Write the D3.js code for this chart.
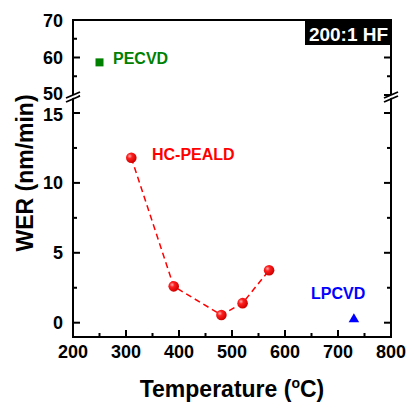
<!DOCTYPE html>
<html>
<head>
<meta charset="utf-8">
<script src="https://cdn.jsdelivr.net/npm/d3@7"></script>
<style>
  body { margin: 0; background: #fff; }
  text { font-family: Arial, "Liberation Sans", sans-serif; font-weight: bold; }
</style>
</head>
<body>
<div id="chart"></div>
<script>
// data
const pealdTemp = [310, 390, 480, 520, 570];
const pealdWer = [11.8, 2.6, 0.55, 1.4, 3.75];
const pecvdTemp = [250];
const pecvdWer = [58.7];
const lpcvdTemp = [730];
const lpcvdWer = [0.25];

const xTicks = [200, 300, 400, 500, 600, 700, 800];
const xMinor = [250, 350, 450, 550, 650, 750];
const upperTicks = [50, 60, 70];
const upperMinor = [55, 65];
const lowerTicks = [0, 5, 10, 15];
const lowerMinor = [2.5, 7.5, 12.5];

const W = 407, H = 403;
const m = {left: 73, right: 391, top: 20, bottom: 337};
const breakY = 98;

const svg = d3.select('#chart')
    .append('svg')
    .attr('width', W)
    .attr('height', H);

const x = d3.scaleLinear().domain([200, 800]).range([m.left, m.right]);
const yUp = d3.scaleLinear().domain([50, 70]).range([95, m.top]);
const yLo = d3.scaleLinear().domain([0, 15]).range([322.7, 113]);

const defs = svg.append('defs');
const grad = defs.append('radialGradient')
    .attr('id', 'ball')
    .attr('cx', '35%').attr('cy', '35%').attr('r', '65%');
grad.append('stop').attr('offset', '0%').attr('stop-color', '#ffb0b0');
grad.append('stop').attr('offset', '35%').attr('stop-color', '#ff2020');
grad.append('stop').attr('offset', '100%').attr('stop-color', '#d00000');

// frame
svg.append('rect')
    .attr('x', m.left).attr('y', m.top)
    .attr('width', m.right - m.left).attr('height', m.bottom - m.top)
    .attr('fill', 'none').attr('stroke', '#000').attr('stroke-width', 2);

// ticks (inward)
function yTick(yPos, len) {
    svg.append('line').attr('x1', m.left).attr('x2', m.left + len)
        .attr('y1', yPos).attr('y2', yPos).attr('stroke', '#000').attr('stroke-width', 2);
    svg.append('line').attr('x1', m.right).attr('x2', m.right - len)
        .attr('y1', yPos).attr('y2', yPos).attr('stroke', '#000').attr('stroke-width', 2);
}
upperTicks.forEach(v => yTick(yUp(v), 7));
upperMinor.forEach(v => yTick(yUp(v), 4));
lowerTicks.forEach(v => yTick(yLo(v), 7));
lowerMinor.forEach(v => yTick(yLo(v), 4));

xTicks.forEach(v => {
    svg.append('line').attr('x1', x(v)).attr('x2', x(v))
        .attr('y1', m.bottom).attr('y2', m.bottom - 7).attr('stroke', '#000').attr('stroke-width', 2);
});
xMinor.forEach(v => {
    svg.append('line').attr('x1', x(v)).attr('x2', x(v))
        .attr('y1', m.bottom).attr('y2', m.bottom - 4).attr('stroke', '#000').attr('stroke-width', 2);
});

// tick labels (the two next to the break are nudged apart a little)
svg.selectAll('.ylab-up')
    .data(upperTicks)
    .join('text')
    .attr('x', 63).attr('y', d => yUp(d) + (d === 50 ? 5 : 6.5))
    .attr('text-anchor', 'end').attr('font-size', 18)
    .text(d => d);
svg.selectAll('.ylab-lo')
    .data(lowerTicks)
    .join('text')
    .attr('x', 63).attr('y', d => yLo(d) + (d === 15 ? 7.5 : 6.5))
    .attr('text-anchor', 'end').attr('font-size', 18)
    .text(d => d);
svg.selectAll('.xlab')
    .data(xTicks)
    .join('text')
    .attr('x', d => x(d)).attr('y', 358)
    .attr('text-anchor', 'middle').attr('font-size', 18)
    .text(d => d);

// axis breaks
[m.left, m.right].forEach(ax => {
    const g = svg.append('g');
    g.append('polygon')
        .attr('points', `${ax - 7},${breakY + 3} ${ax + 7},${breakY - 3} ${ax + 7},${breakY - 6} ${ax - 7},${breakY}`)
        .attr('fill', '#fff');
    g.append('line').attr('x1', ax - 7).attr('y1', breakY).attr('x2', ax + 7).attr('y2', breakY - 6)
        .attr('stroke', '#000').attr('stroke-width', 1.8);
    g.append('line').attr('x1', ax - 7).attr('y1', breakY + 4).attr('x2', ax + 7).attr('y2', breakY - 2)
        .attr('stroke', '#000').attr('stroke-width', 1.8);
});

// HC-PEALD dashed line + balls
const line = d3.line().x(d => x(d[0])).y(d => yLo(d[1]));
const peald = d3.zip(pealdTemp, pealdWer);
svg.append('path')
    .datum(peald)
    .attr('d', line)
    .attr('fill', 'none')
    .attr('stroke', '#ff0000')
    .attr('stroke-width', 1.5)
    .attr('stroke-dasharray', '6,4');
svg.selectAll('.ball')
    .data(peald)
    .join('circle')
    .attr('cx', d => x(d[0])).attr('cy', d => yLo(d[1]))
    .attr('r', 5.3)
    .attr('fill', 'url(#ball)');

// PECVD square
svg.selectAll('.sq')
    .data(d3.zip(pecvdTemp, pecvdWer))
    .join('rect')
    .attr('x', d => x(d[0]) - 4).attr('y', d => yUp(d[1]) - 4)
    .attr('width', 8).attr('height', 8)
    .attr('fill', '#008000');

// LPCVD triangle
svg.selectAll('.tri')
    .data(d3.zip(lpcvdTemp, lpcvdWer))
    .join('path')
    .attr('transform', d => `translate(${x(d[0])},${yLo(d[1])})`)
    .attr('d', d3.symbol(d3.symbolTriangle, 48))
    .attr('fill', '#0000ff');

// series labels
svg.append('text').attr('x', 113).attr('y', 64).attr('font-size', 16)
    .attr('fill', '#008000').text('PECVD');
svg.append('text').attr('x', 152).attr('y', 160).attr('font-size', 16)
    .attr('fill', '#ff0000').text('HC-PEALD');
svg.append('text').attr('x', 311).attr('y', 299).attr('font-size', 16)
    .attr('fill', '#0000ff').text('LPCVD');

// HF box
svg.append('rect').attr('x', 305).attr('y', m.top).attr('width', m.right - 305).attr('height', 25)
    .attr('fill', '#000');
svg.append('text').attr('x', 348.5).attr('y', 41).attr('text-anchor', 'middle')
    .attr('font-size', 19).attr('fill', '#fff').text('200:1 HF');

// axis titles
svg.append('text')
    .attr('transform', 'translate(33,173) rotate(-90)')
    .attr('text-anchor', 'middle').attr('font-size', 23)
    .text('WER (nm/min)');
const xt = svg.append('text')
    .attr('x', 232).attr('y', 397).attr('text-anchor', 'middle').attr('font-size', 23);
xt.append('tspan').text('Temperature (');
xt.append('tspan').attr('font-size', 14).attr('dy', -9).text('o');
xt.append('tspan').attr('dy', 9).text('C)');
</script>
</body>
</html>
